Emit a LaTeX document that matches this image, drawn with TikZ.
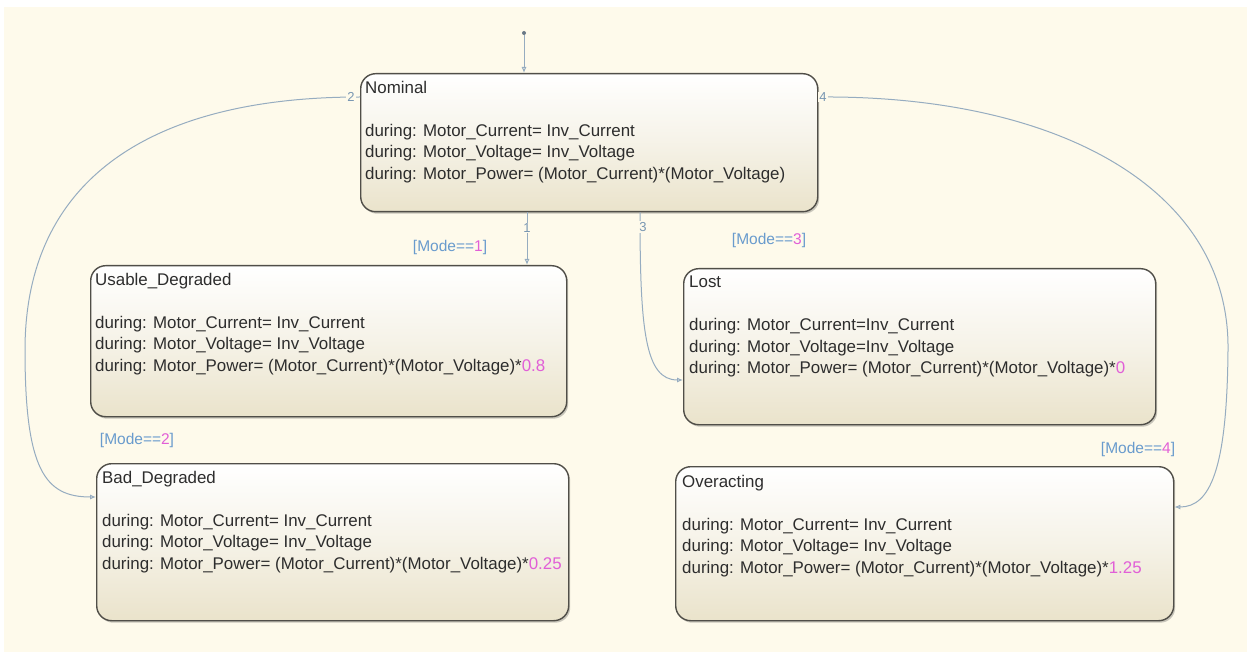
\documentclass[tikz,border=0pt]{standalone}
\usepackage{fontspec}
\newfontfamily\arialf{Liberation Sans}
\usetikzlibrary{arrows.meta,shadows}
\definecolor{cream}{RGB}{254,250,235}
\definecolor{beige}{RGB}{234,227,203}
\definecolor{stroke}{RGB}{80,78,72}
\definecolor{txt}{RGB}{45,45,45}
\definecolor{trc}{RGB}{150,172,192}
\definecolor{lblue}{RGB}{105,155,205}
\definecolor{mag}{RGB}{225,95,215}
\definecolor{numc}{RGB}{120,150,178}
\tikzset{
  state/.style={draw=stroke, line width=1.4pt, rounded corners=15pt,
    top color=white, bottom color=beige, middle color=white!55!beige,
    anchor=north west, inner sep=0pt,
    drop shadow={shadow xshift=1.5pt, shadow yshift=-2pt, opacity=0.3, fill=black!70}},
  stxt/.style={anchor=north west, inner sep=0pt, align=left, text=txt,
    font=\arialf\fontsize{16.9}{21.4}\selectfont},
  trans/.style={draw=trc, line width=1pt, -{Latex[open,length=6pt,width=5pt]}},
  guard/.style={inner sep=1pt, text=lblue, font=\arialf\fontsize{15.5}{18}\selectfont},
  tnum/.style={inner sep=1pt, fill=cream, text=numc, font=\arialf\fontsize{13}{15}\selectfont}
}
\begin{document}
\begin{tikzpicture}[x=1pt,y=-1pt]
\useasboundingbox (0,0) rectangle (1247,652);
\fill[white] (0,0) rectangle (1247,652);
\fill[cream] (4,7) rectangle (1247,652);

% states
\node[state, minimum width=457pt, minimum height=138pt] (nom) at (360,73) {};
\node[stxt] (nomt) at ([shift={(5pt,-8pt)}]nom.north west)
  {Nominal\\[21.4pt]during: Motor\_Current= Inv\_Current\\during: Motor\_Voltage= Inv\_Voltage\\during: Motor\_Power= (Motor\_Current)*(Motor\_Voltage)};

\node[state, minimum width=476pt, minimum height=151pt] (usa) at (90,265) {};
\node[stxt] (usat) at ([shift={(5pt,-8pt)}]usa.north west)
  {Usable\_Degraded\\[21.4pt]during: Motor\_Current= Inv\_Current\\during: Motor\_Voltage= Inv\_Voltage\\during: Motor\_Power= (Motor\_Current)*(Motor\_Voltage)*\textcolor{mag}{0.8}};

\node[state, minimum width=472pt, minimum height=156pt] (lost) at (683,268) {};
\node[stxt] (lostt) at ([shift={(6pt,-8pt)}]lost.north west)
  {Lost\\[21.4pt]during: Motor\_Current=Inv\_Current\\during: Motor\_Voltage=Inv\_Voltage\\during: Motor\_Power= (Motor\_Current)*(Motor\_Voltage)*\textcolor{mag}{0}};

\node[state, minimum width=472pt, minimum height=157pt] (bad) at (96,463) {};
\node[stxt] (badt) at ([shift={(6pt,-8pt)}]bad.north west)
  {Bad\_Degraded\\[21.4pt]during: Motor\_Current= Inv\_Current\\during: Motor\_Voltage= Inv\_Voltage\\during: Motor\_Power= (Motor\_Current)*(Motor\_Voltage)*\textcolor{mag}{0.25}};

\node[state, minimum width=498pt, minimum height=154pt] (ovr) at (675,466) {};
\node[stxt] (ovrt) at ([shift={(7pt,-9pt)}]ovr.north west)
  {Overacting\\[21.4pt]during: Motor\_Current= Inv\_Current\\during: Motor\_Voltage= Inv\_Voltage\\during: Motor\_Power= (Motor\_Current)*(Motor\_Voltage)*\textcolor{mag}{1.25}};

% default transition
\node[circle, fill=trc!70!black, inner sep=0pt, minimum size=4pt] (init) at (524,33) {};
\draw[trans] (init) -- (init |- nom.north);

% transitions
\draw[trans] ([xshift=167pt]nom.south west) -- ([xshift=437pt]usa.north west);
\draw[trans] ([yshift=-24pt]nom.north west) .. controls (150,97) and (25,180) .. (25,350)
  .. controls (25,470) and (45,497) .. ([yshift=-34pt]bad.north west);
\draw[trans] ([xshift=280pt]nom.south west) .. controls (640,330) and (645,380) .. ([yshift=-112pt]lost.north west);
\draw[trans] ([yshift=-24pt]nom.north east) .. controls (1060,95) and (1230,190) .. (1228,350)
  .. controls (1227,470) and (1210,507) .. ([yshift=-41pt]ovr.north east);

% transition numbers
\node[tnum] (n1) at (527,228) {1};
\node[tnum] (n2) at (351,97) {2};
\node[tnum] (n3) at (643,227) {3};
\node[tnum] (n4) at (823,97) {4};

% guards
\node[guard] (g1) at (450,247) {[Mode==\textcolor{mag}{1}]};
\node[guard] (g2) at (137,440) {[Mode==\textcolor{mag}{2}]};
\node[guard] (g3) at (769,240) {[Mode==\textcolor{mag}{3}]};
\node[guard] (g4) at (1138,449) {[Mode==\textcolor{mag}{4}]};
\end{tikzpicture}
\end{document}
